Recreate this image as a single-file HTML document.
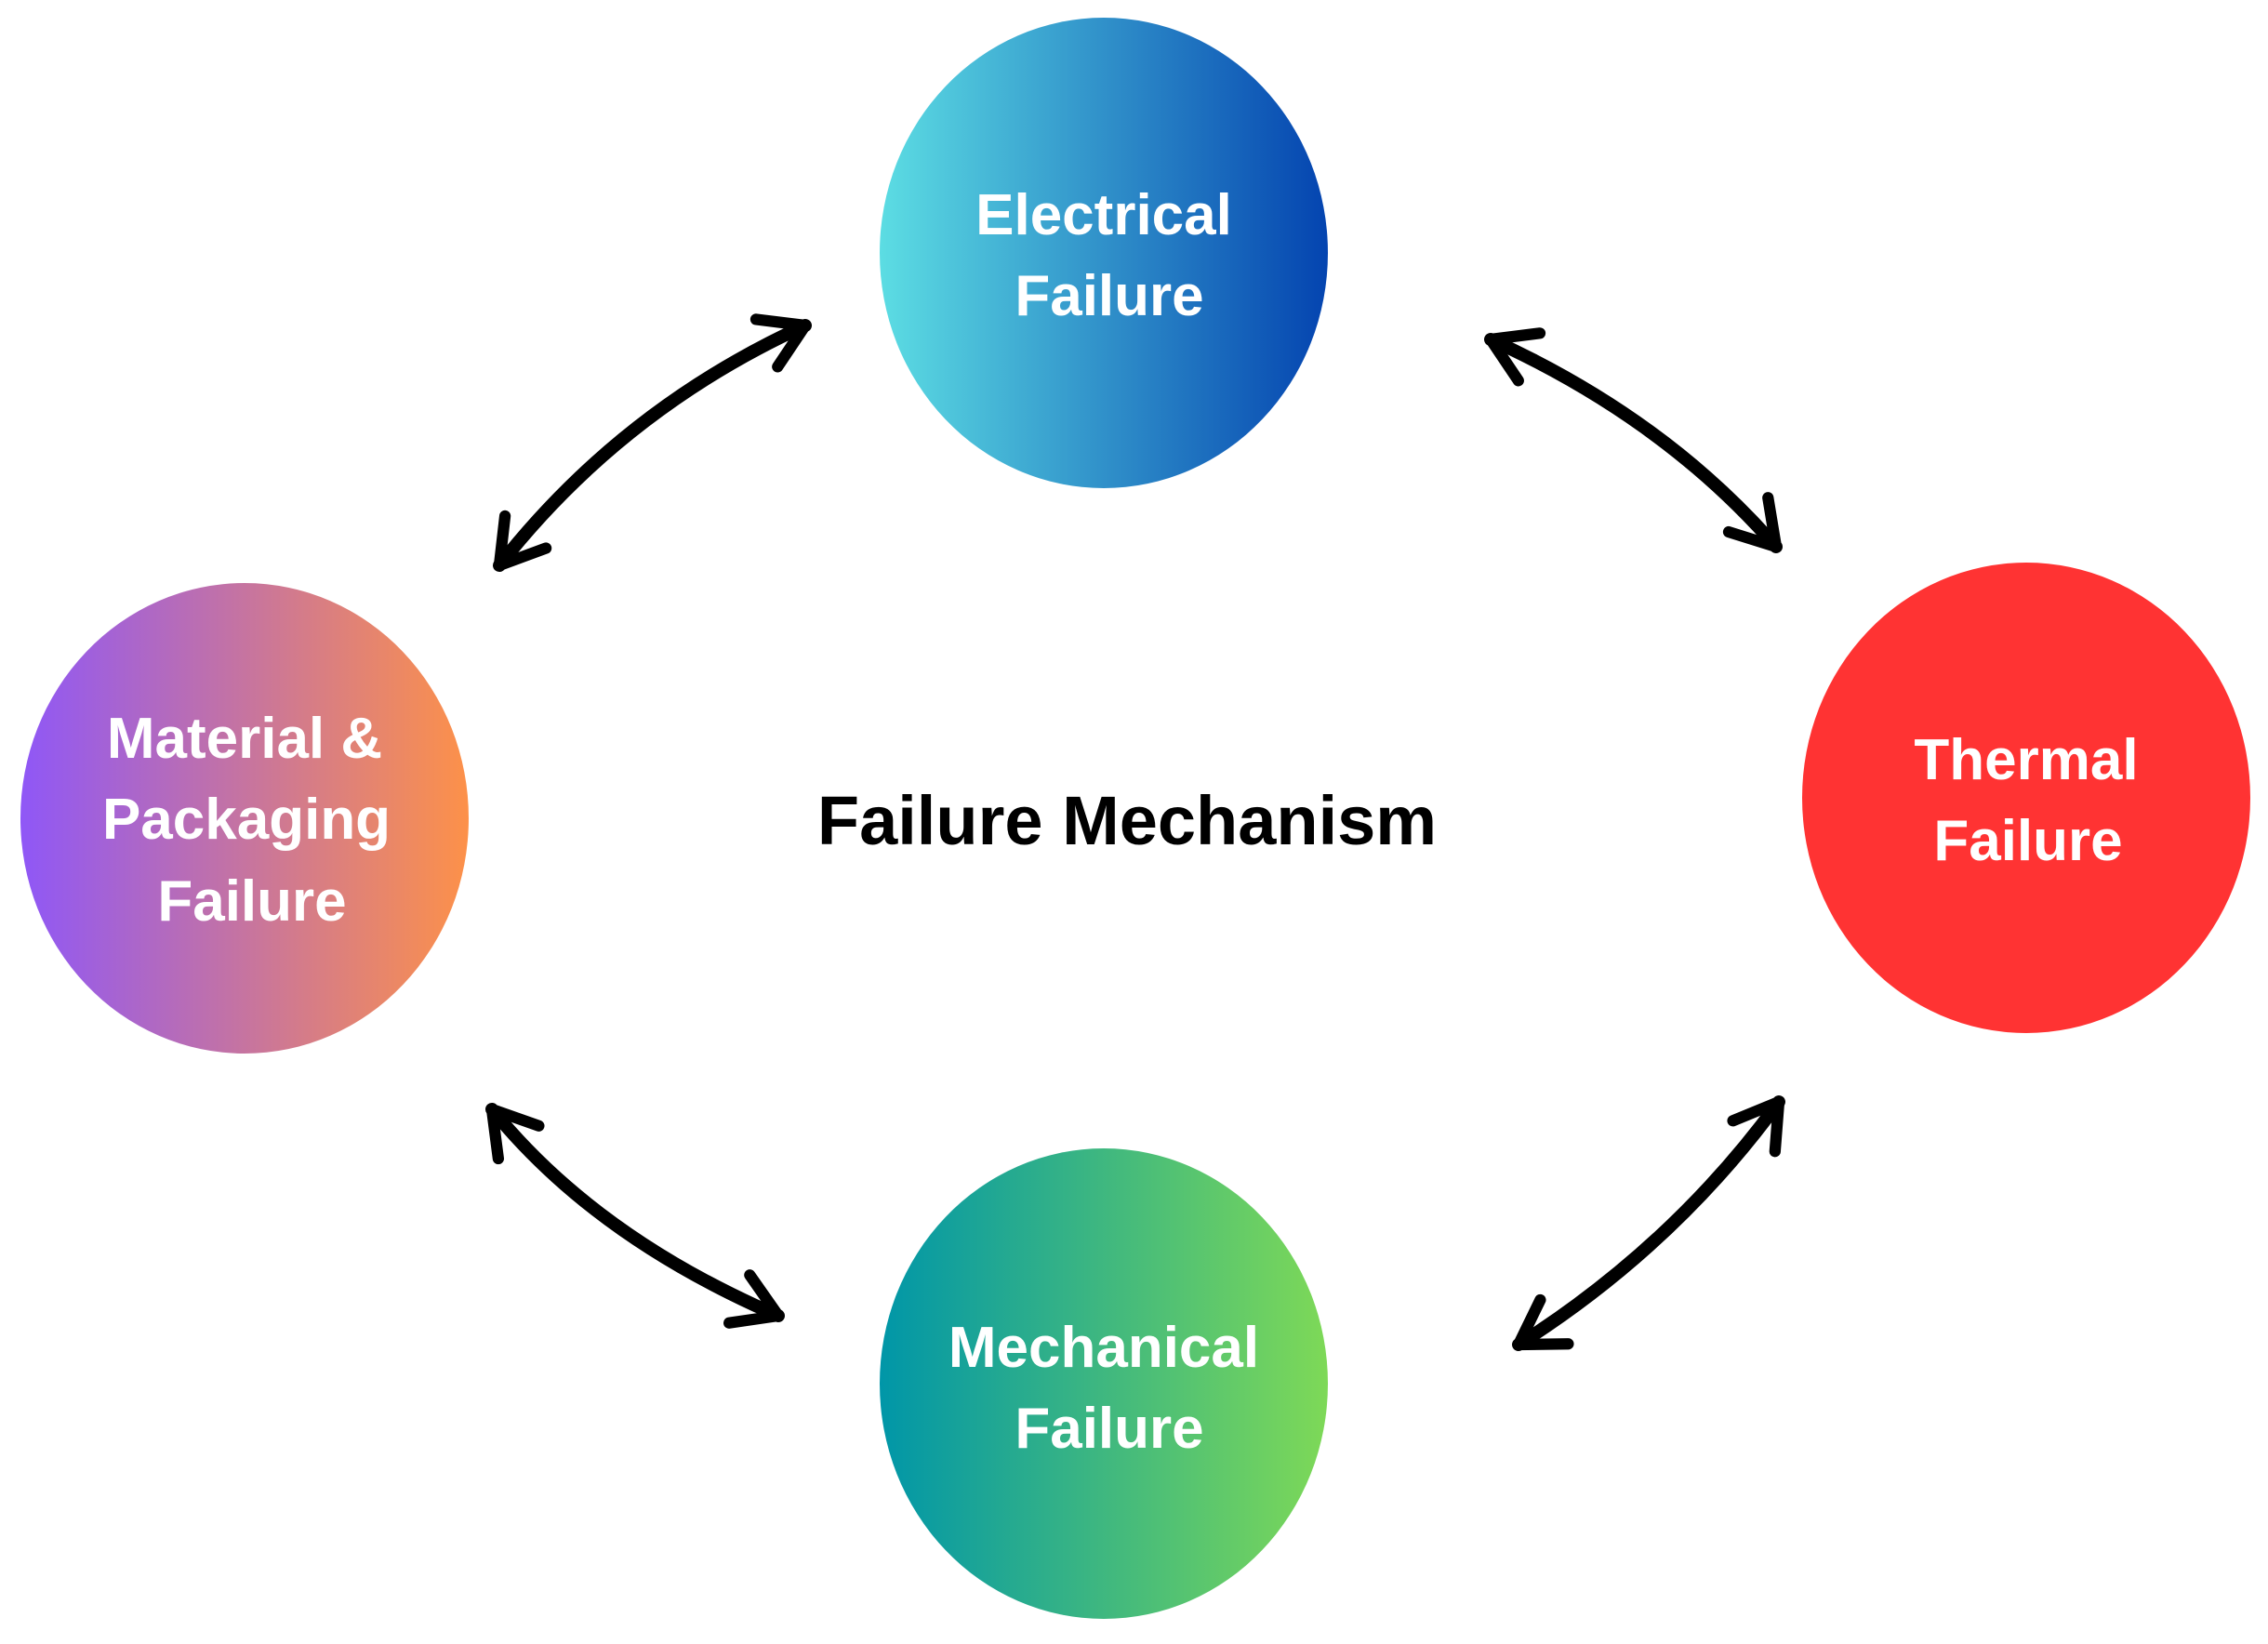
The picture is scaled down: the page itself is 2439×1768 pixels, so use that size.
<!DOCTYPE html>
<html><head><meta charset="utf-8"><style>
html,body{margin:0;padding:0;background:#fff;}
body{width:2439px;height:1763px;overflow:hidden;}
text{font-family:"Liberation Sans","DejaVu Sans",sans-serif;font-weight:bold;}
</style></head><body>
<svg width="2439" height="1763" viewBox="0 0 2439 1763" xmlns="http://www.w3.org/2000/svg">
<defs>
<linearGradient id="ge" x1="0" x2="1" y1="0" y2="0"><stop offset="0" stop-color="#5cdde3"/><stop offset="1" stop-color="#0444b0"/></linearGradient>
<linearGradient id="gm" x1="0" x2="1" y1="0" y2="0"><stop offset="0" stop-color="#8f57f7"/><stop offset="1" stop-color="#fd9149"/></linearGradient>
<linearGradient id="gc" x1="0" x2="1" y1="0" y2="0"><stop offset="0" stop-color="#0096a8"/><stop offset="1" stop-color="#7ed957"/></linearGradient>
<marker id="ah" viewBox="0 0 20 20" refX="16" refY="10" markerWidth="5" markerHeight="5" orient="auto-start-reverse" markerUnits="strokeWidth">
<path d="M3,2 L16,10 L3,18" fill="none" stroke="#000" stroke-width="3.5" stroke-linecap="round" stroke-linejoin="round"/>
</marker>
</defs>
<ellipse cx="1187" cy="272" rx="241" ry="253" fill="url(#ge)"/>
<ellipse cx="263" cy="880" rx="241" ry="253" fill="url(#gm)"/>
<ellipse cx="2179" cy="858" rx="241" ry="253" fill="#ff3333"/>
<ellipse cx="1187" cy="1488" rx="241" ry="253" fill="url(#gc)"/>
<g fill="none" stroke="#000" stroke-width="14" stroke-linecap="round" marker-start="url(#ah)" marker-end="url(#ah)">
<path d="M537,608 Q669,440 866,350"/>
<path d="M1603,365 Q1790,450 1910,588"/>
<path d="M529,1193 Q640,1330 837,1415"/>
<path d="M1913,1185 Q1800,1340 1633,1446"/>
</g>
<g fill="#fff" font-size="62" text-anchor="middle">
<text x="1187" y="252">Electrical</text>
<text x="1193" y="339">Failure</text>
<text x="263" y="815">Material &amp;</text>
<text x="265" y="902">Packaging</text>
<text x="271" y="990">Failure</text>
<text x="2179" y="838">Thermal</text>
<text x="2181" y="925">Failure</text>
<text x="1187" y="1470">Mechanical</text>
<text x="1193" y="1557">Failure</text>
</g>
<text x="1212" y="908" font-size="74" text-anchor="middle" fill="#000">Failure Mechanism</text>
</svg>
</body></html>
